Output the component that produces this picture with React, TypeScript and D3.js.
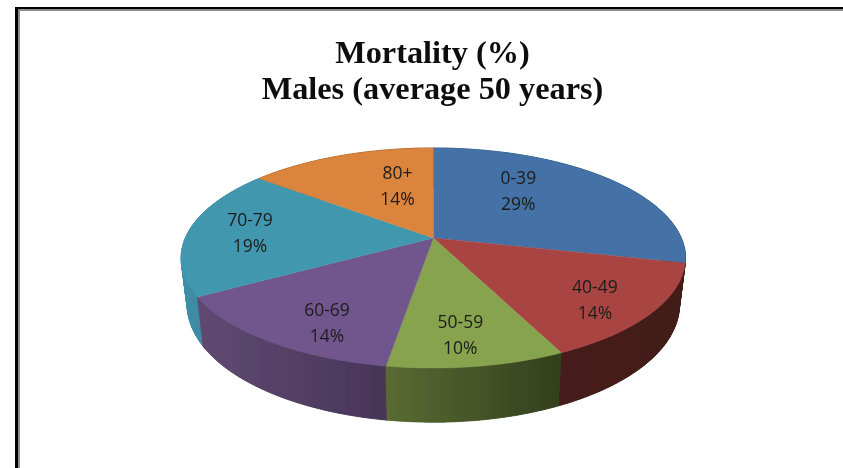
import React from "react";
import * as d3 from "d3";

const titleLines = ["Mortality (%)", "Males (average 50 years)"];
const categories = ["0-39", "40-49", "50-59", "60-69", "70-79", "80+"];
const shareLabels = ["29%", "14%", "10%", "14%", "19%", "14%"];
const values = [28.6, 14.3, 9.6, 14.1, 19.1, 14.3];
const topColors = ["#4472a6", "#a84543", "#88a34e", "#70578c", "#4197ae", "#db843d"];
const sideLeft = ["#345a85", "#461c1a", "#5a6b32", "#5f4a72", "#3f90a8", "#9c5c28"];
const sideRight = ["#2c4c70", "#421a18", "#323f1d", "#483558", "#35798d", "#8a5020"];
const labelNudges = [[-24, -10], [37, 19], [3, 26], [-14, 27], [-36, 0], [23, 0]];

const W = 843, H = 468;
const k = 0.1818;
const top = { cx: 433.3, cy: 238, a: 248, b: 106.4 };
const base = { cx: 433.3, cy: 283.5, a: 242, b: 113.5 };

type Disc = typeof top;
const project = (d: Disc, r: number, phi: number): [number, number] => {
  const u = r * Math.sin(phi), v = -r * Math.cos(phi);
  const s = 1 / (1 - k * v);
  return [d.cx + d.a * u * s, d.cy + d.b * v * s];
};

const pie = d3.pie<number>().sort(null).value((v) => v)(values);
const path = d3.line();
const STEP = Math.PI / 180;

export default function App() {
  const arcs = pie.map((p, i) => {
    const n = Math.max(2, Math.ceil((p.endAngle - p.startAngle) / STEP));
    const phi = d3.scaleLinear().domain([0, n]).range([p.startAngle, p.endAngle]);
    const topPts = d3.range(n + 1).map((j) => project(top, 1, phi(j)));
    const basePts = d3.range(n + 1).map((j) => project(base, 1, phi(j)));
    const [x0, x1] = d3.extent(topPts, (q) => q[0]) as [number, number];
    const depth = -Math.cos((p.startAngle + p.endAngle) / 2);
    return { i, p, n, topPts, basePts, x0, x1, depth };
  });
  const backToFront = [...arcs].sort((a, b) => a.depth - b.depth);

  return (
    <svg width={W} height={H} viewBox={`0 0 ${W} ${H}`}
      style={{ position: "absolute", left: 0, top: 0, display: "block", background: "#fff" }}>
      <defs>
        <filter id="soft" x="-5%" y="-5%" width="110%" height="110%">
          <feGaussianBlur stdDeviation="0.45" />
        </filter>
        {arcs.map((a) => (
          <linearGradient key={a.i} id={`side${a.i}`} gradientUnits="userSpaceOnUse"
            x1={a.x0} x2={a.x1} y1={0} y2={0}>
            <stop offset="0" stopColor={sideLeft[a.i]} />
            <stop offset="1" stopColor={sideRight[a.i]} />
          </linearGradient>
        ))}
      </defs>
      <rect x={15} y={7} width={828} height={2} fill="#000" />
      <rect x={15} y={7} width={3} height={461} fill="#000" />
      <rect x={18} y={9} width={825} height={2} fill="#8c8c8c" />
      <rect x={18} y={9} width={2} height={459} fill="#8c8c8c" />

      <g filter="url(#soft)">
        {backToFront.map((a) => (
          <g key={a.i} fill={`url(#side${a.i})`}>
            {d3.range(a.n).map((j) => (
              <path key={j} stroke={`url(#side${a.i})`} strokeWidth={0.8}
                d={path([a.topPts[j], a.topPts[j + 1], a.basePts[j + 1], a.basePts[j]])! + "Z"} />
            ))}
            <path d={path([...a.topPts, ...[...a.basePts].reverse()])! + "Z"} />
          </g>
        ))}
        {arcs.map((a) => (
          <path key={a.i} d={path([[top.cx, top.cy], ...a.topPts])! + "Z"}
            fill={topColors[a.i]} stroke={topColors[a.i]} strokeWidth={0.4} />
        ))}
      </g>

      {titleLines.map((t, i) => (
        <text key={t} x={432.5} y={62.5 + i * 36.5} textAnchor="middle" filter="url(#soft)"
          fontFamily="'Liberation Serif', serif" fontWeight={700} fontSize={32.3} fill="#111">
          {t}
        </text>
      ))}

      {arcs.map(({ i, p }) => {
        const [x, y] = project(top, 0.6, (p.startAngle + p.endAngle) / 2);
        const cx = x + labelNudges[i][0], cy = y + labelNudges[i][1];
        return (
          <g key={i} fontFamily="'Open Sans', sans-serif" fontSize={17.5} fill="#1c1c1c"
            textAnchor="middle" filter="url(#soft)">
            <text x={cx} y={cy - 7}>{categories[i]}</text>
            <text x={cx} y={cy + 19}>{shareLabels[i]}</text>
          </g>
        );
      })}
    </svg>
  );
}
